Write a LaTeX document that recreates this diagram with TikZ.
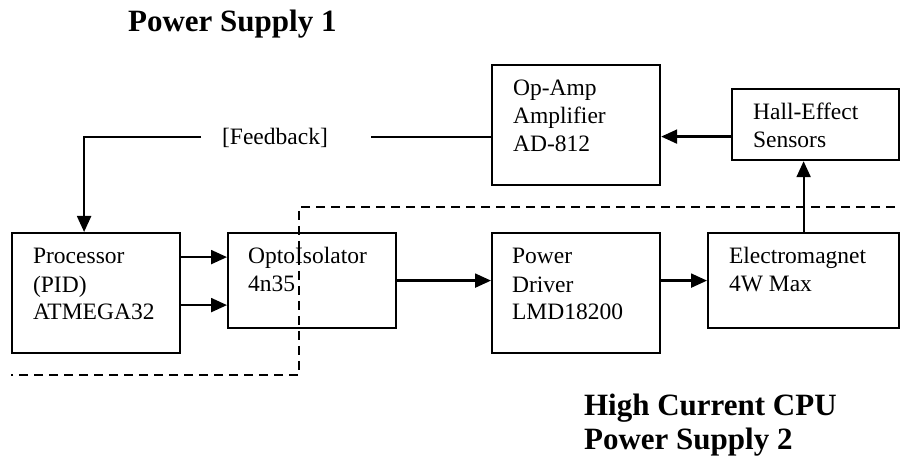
\documentclass[tikz,border=0pt]{standalone}
\usepackage{fontspec}
\setmainfont{Liberation Serif}
\usetikzlibrary{positioning,arrows.meta}

\begin{document}
\begin{tikzpicture}[x=1pt, y=-1pt, >={Triangle[length=16pt,width=14pt]}, line width=2.2pt,
    blk/.style={draw, line width=2.2pt, inner sep=0pt, anchor=north west},
    txt/.style={anchor=base west, align=left, inner sep=0pt, font=\fontsize{23.5}{28}\selectfont},
    title/.style={anchor=base west, align=left, inner sep=0pt, font=\fontsize{31}{34}\selectfont\bfseries}]
  \useasboundingbox (0,0) rectangle (900,462);
  % blocks
  \node[blk, minimum width=168pt, minimum height=120pt] (proc) at (11,232) {};
  \node[blk, minimum width=168pt, minimum height=95pt] (opto) at (227,232) {};
  \node[blk, minimum width=168pt, minimum height=120pt] (driver) at (491,232) {};
  \node[blk, minimum width=191pt, minimum height=95pt] (magnet) at (707,232) {};
  \node[blk, minimum width=168pt, minimum height=120pt] (opamp) at (491,64) {};
  \node[blk, minimum width=167pt, minimum height=71pt] (hall) at (731,88) {};
  % block texts (anchored on the last line)
  \node[txt] (procT) at ([shift={(21,88)}]proc.north west) {Processor\\(PID)\\ATMEGA32};
  \node[txt] (optoT) at ([shift={(20,60)}]opto.north west) {OptoIsolator\\4n35};
  \node[txt] (driverT) at ([shift={(20,88)}]driver.north west) {Power\\Driver\\LMD18200};
  \node[txt] (magnetT) at ([shift={(21,60)}]magnet.north west) {Electromagnet\\4W Max};
  \node[txt] (opampT) at ([shift={(21,88)}]opamp.north west) {Op-Amp\\Amplifier\\AD-812};
  \node[txt] (hallT) at ([shift={(21,60)}]hall.north west) {Hall-Effect\\Sensors};
  % titles
  \node[title] (ps1) at (127,32) {Power Supply 1};
  \node[title] (ps2) at (583,449) {High Current CPU\\Power Supply 2};
  % feedback path
  \coordinate (fbR) at ([xshift=-120pt,yshift=-12pt]opamp.west);
  \coordinate (fbL) at ([xshift=-170pt]fbR);
  \node[txt, anchor=base] (fb) at ([xshift=-96pt,yshift=-7pt]fbR) {[Feedback]};
  \draw ([yshift=-12pt]opamp.west) -- (fbR);
  \draw[->] (fbL) -| ([xshift=-12pt]proc.north);
  % signal path
  \draw[->] ([yshift=36pt]proc.east) -- ([yshift=36pt]proc.east -| opto.west);
  \draw[->] ([yshift=-12pt]proc.east) -- ([yshift=-12pt]proc.east -| opto.west);
  \draw[->] (opto.east) -- (opto.east -| driver.west);
  \draw[->] (magnet.west -| driver.east) -- (magnet.west);
  \draw[->] (magnet.north) -- (magnet.north |- hall.south);
  \draw[->] ([yshift=-12pt]hall.west) -- ([yshift=-12pt]hall.west -| opamp.east);
  % isolation boundary
  \draw[dash pattern=on 9pt off 6pt] (895,207) -- (299,207) -- (299,375) -- (11,375);
\end{tikzpicture}
\end{document}
